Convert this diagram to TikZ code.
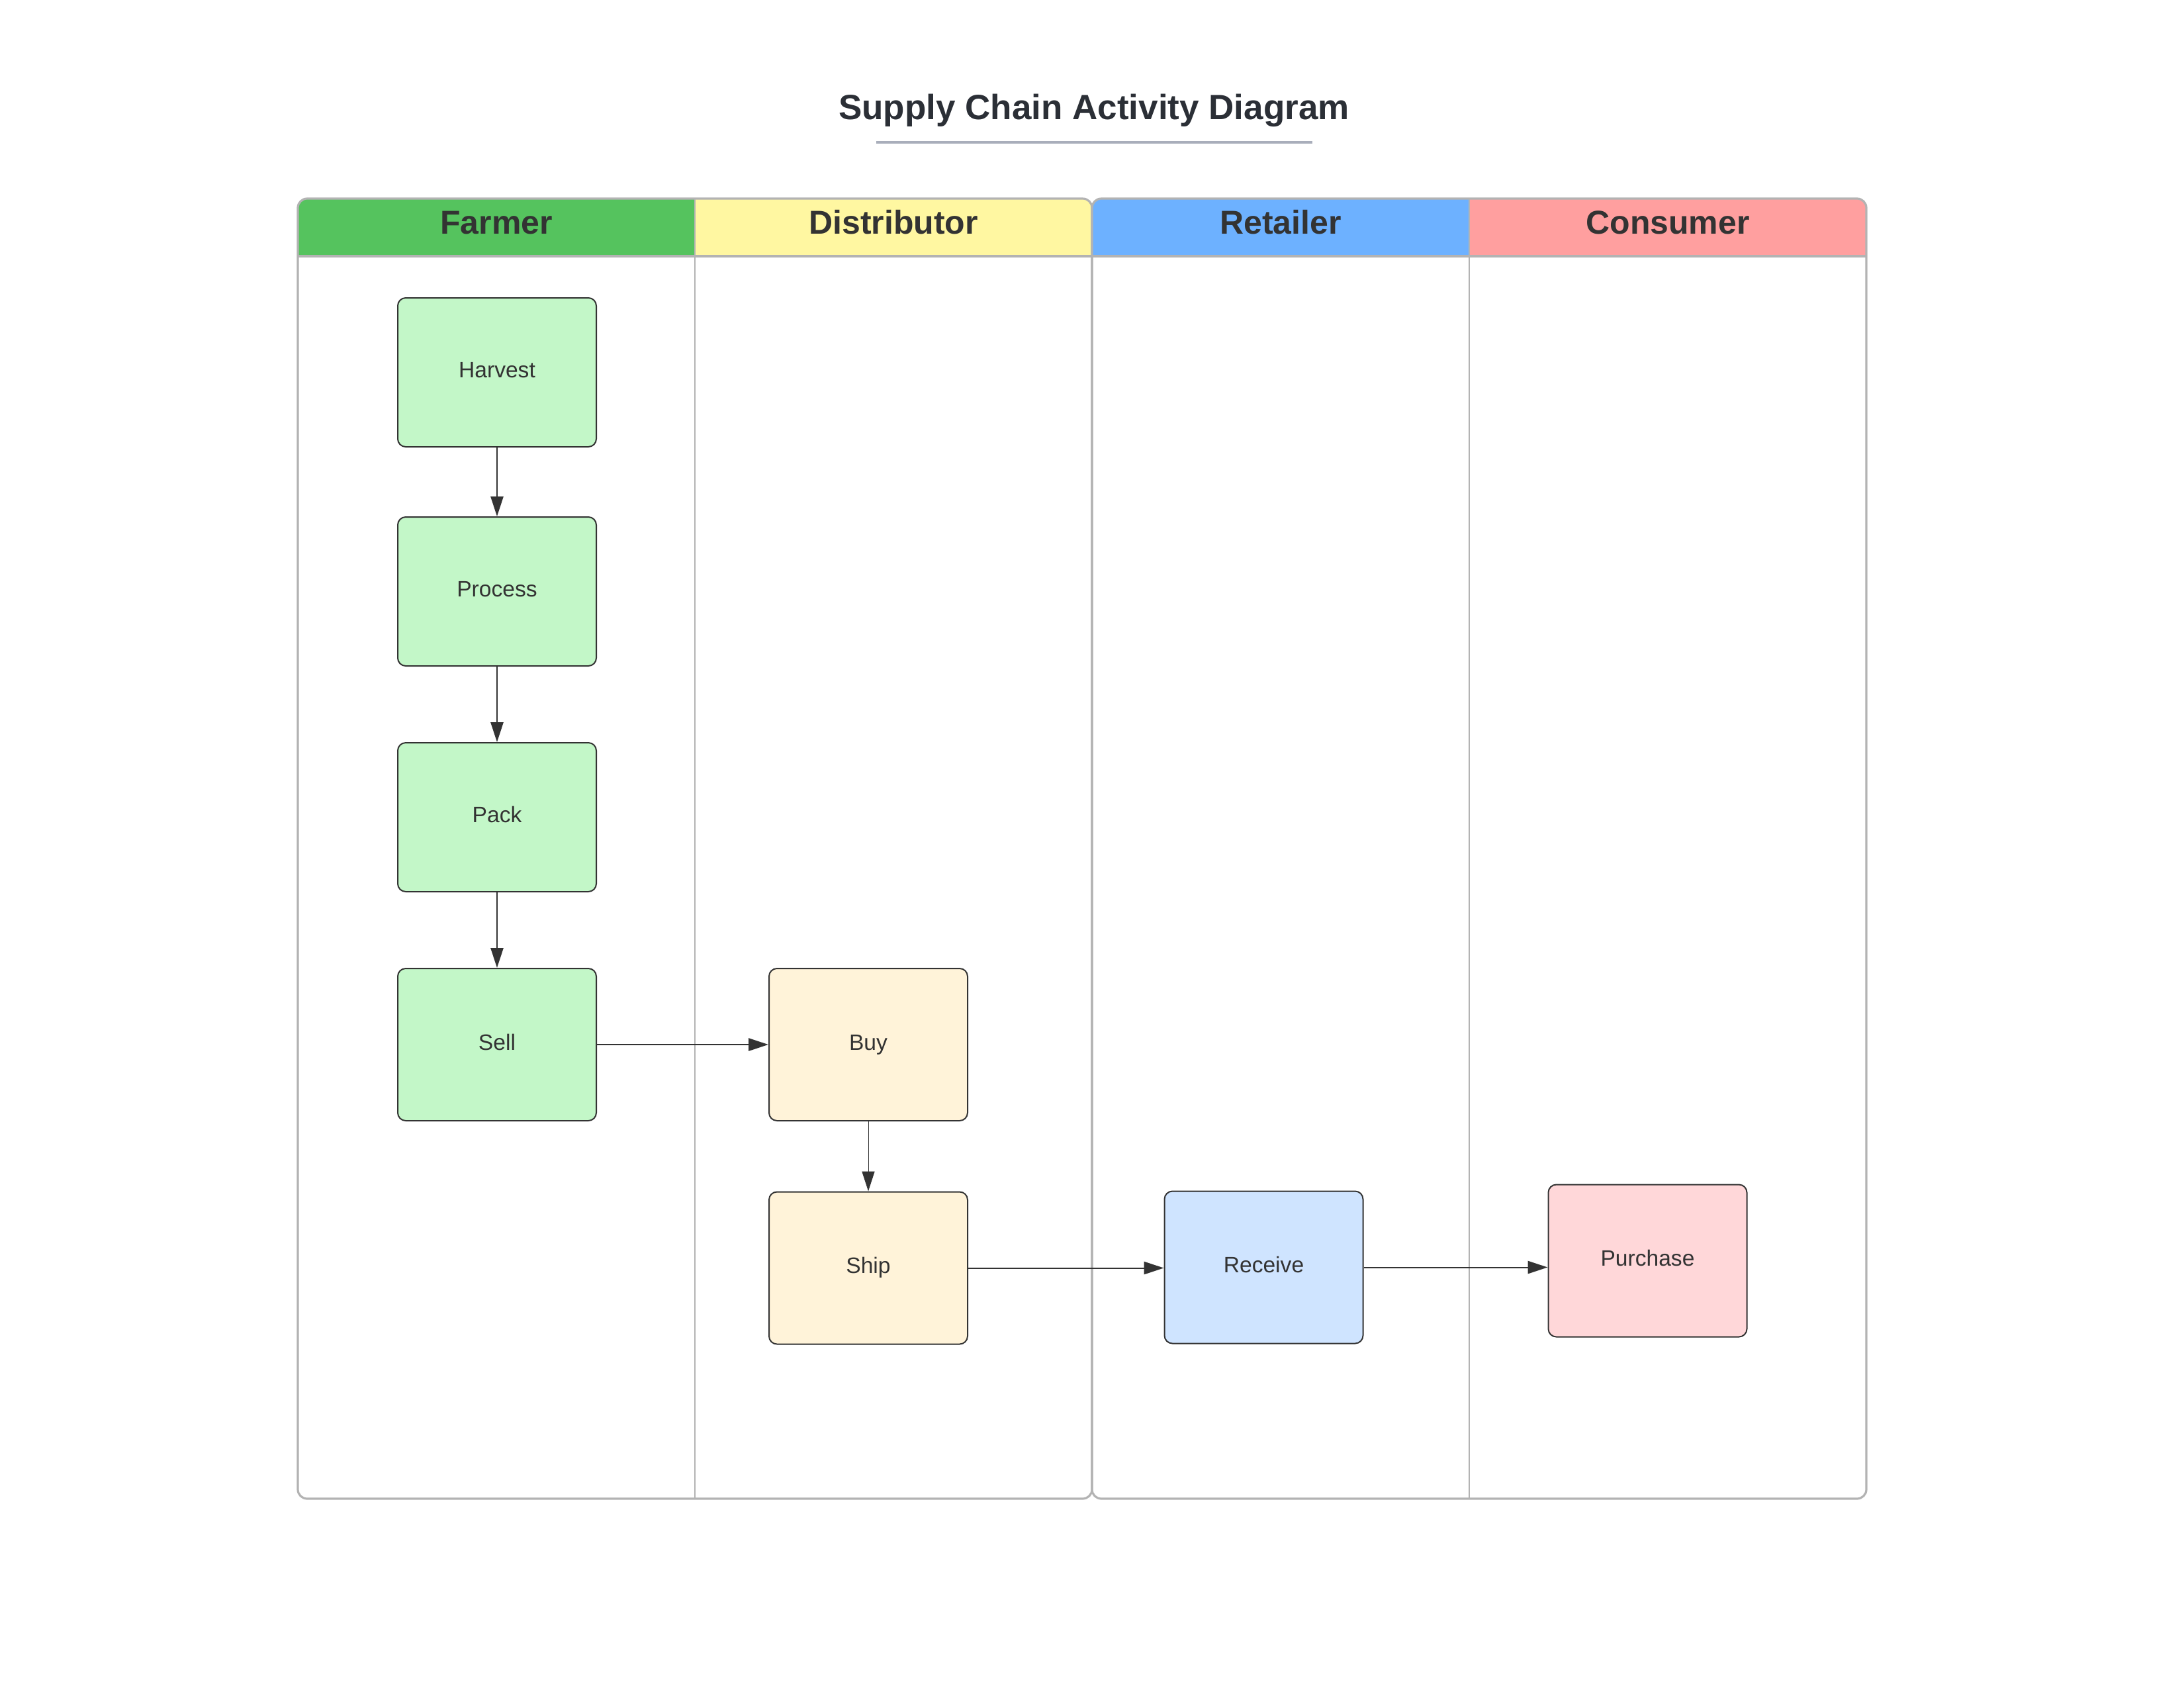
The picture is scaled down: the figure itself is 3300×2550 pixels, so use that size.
\documentclass[tikz,border=0pt]{standalone}
\usepackage{fontspec}
\setmainfont{Liberation Sans}
\usetikzlibrary{arrows.meta}
\definecolor{farmerH}{HTML}{55C35E}
\definecolor{distH}{HTML}{FFF7A1}
\definecolor{retailH}{HTML}{6DB1FF}
\definecolor{consH}{HTML}{FF9F9F}
\definecolor{farmerF}{HTML}{C3F7C8}
\definecolor{distF}{HTML}{FFF3D9}
\definecolor{retailF}{HTML}{CFE4FF}
\definecolor{consF}{HTML}{FFD7D9}
\definecolor{poolgray}{HTML}{B3B3B3}
\definecolor{ink}{HTML}{333333}
\definecolor{titleink}{HTML}{2B2F36}
\definecolor{ruleink}{HTML}{A9AEBB}
\tikzset{
  poolborder/.style={draw=poolgray, line width=0.8pt, rounded corners=3.5pt},
  headline/.style={draw=poolgray, line width=0.9pt},
  laneline/.style={draw=poolgray, line width=0.6pt},
  headtext/.style={anchor=base, text=ink, font=\fontsize{12.5pt}{14pt}\selectfont\bfseries, inner sep=0pt},
  titletext/.style={anchor=base, text=titleink, font=\fontsize{13.25pt}{16pt}\selectfont\bfseries, inner sep=0pt},
  activity/.style={draw=ink, line width=0.5pt, rounded corners=3pt, minimum width=75pt,
    inner sep=0pt, text=ink, font=\fontsize{8.4pt}{10pt}\selectfont, text height=6pt, text depth=1.8pt},
  tall/.style={minimum height=56.25pt},
  taller/.style={minimum height=57.5pt},
  flow/.style={draw=ink, line width=0.5pt, -{Triangle[length=7.5pt, width=4.8pt]}},
  thinflow/.style={draw=ink, line width=0.25pt, -{Triangle[length=7.5pt, width=4.8pt]}}
}
\begin{document}
\begin{tikzpicture}[x=0.25pt,y=-0.25pt]
\useasboundingbox[fill=white] (0,0) rectangle (3300,2550);

% title
\node[titletext] (title) at (1653,180) {Supply Chain Activity Diagram};
\draw[draw=ruleink, line width=1pt] (1324,215) -- (1983,215);

% pool 1
\begin{scope}
\clip[rounded corners=3.5pt] (450,300) rectangle (1650,2264);
\fill[farmerH] (450,300) rectangle (1050,387);
\fill[distH] (1050,300) rectangle (1650,387);
\end{scope}
\draw[laneline] (1050,300) -- (1050,2264);
\draw[headline] (450,387) -- (1650,387);
\draw[poolborder] (450,300) rectangle (1650,2264);

% pool 2
\begin{scope}
\clip[rounded corners=3.5pt] (1650,300) rectangle (2820,2264);
\fill[retailH] (1650,300) rectangle (2220,387);
\fill[consH] (2220,300) rectangle (2820,387);
\end{scope}
\draw[laneline] (2220,300) -- (2220,2264);
\draw[headline] (1650,387) -- (2820,387);
\draw[poolborder] (1650,300) rectangle (2820,2264);

% lane headers
\node[headtext] (hFarmer) at (750,353) {Farmer};
\node[headtext] (hDist) at (1350,353) {Distributor};
\node[headtext] (hRetail) at (1935,353) {Retailer};
\node[headtext] (hCons) at (2520,353) {Consumer};

% activities
\node[activity, tall, fill=farmerF] (harvest) at (751,562.5) {Harvest};
\node[activity, tall, fill=farmerF] (process) at (751,893.5) {Process};
\node[activity, tall, fill=farmerF] (pack) at (751,1234.5) {Pack};
\node[activity, taller, fill=farmerF] (sell) at (751,1578) {Sell};
\node[activity, taller, fill=distF] (buy) at (1312,1578) {Buy};
\node[activity, taller, fill=distF] (ship) at (1312,1915.5) {Ship};
\node[activity, taller, fill=retailF] (receive) at (1909.5,1914.5) {Receive};
\node[activity, taller, fill=consF] (purchase) at (2489.5,1904.5) {Purchase};

% flows
\draw[flow] (harvest) -- (process);
\draw[flow] (process) -- (pack);
\draw[flow] (pack) -- (sell);
\draw[flow] (sell) -- (buy);
\draw[thinflow] (buy) -- (ship);
\draw[flow] (ship.east) -- (ship.east -| receive.west);
\draw[flow] (receive.east) -- (receive.east -| purchase.west);
\end{tikzpicture}
\end{document}
